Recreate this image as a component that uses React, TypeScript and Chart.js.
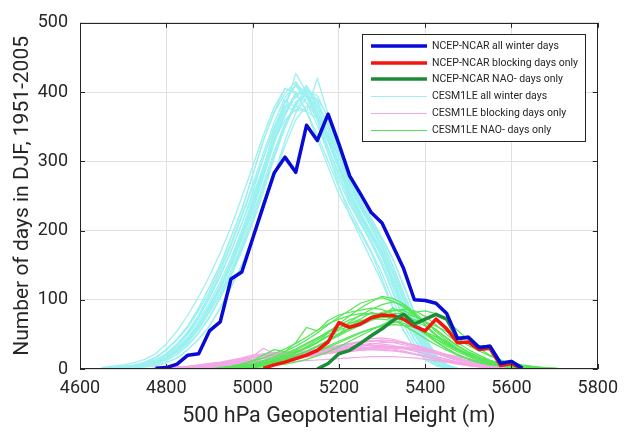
import React, { useEffect, useRef } from "react";
import { Chart, registerables } from "chart.js";
Chart.register(...registerables);

const xTicks = [4600, 4800, 5000, 5200, 5400, 5600, 5800];
const yTicks = [0, 100, 200, 300, 400, 500];

// NCEP-NCAR reanalysis
const ncepAllX = [4775, 4800, 4825, 4850, 4875, 4900, 4925, 4950, 4975, 5000, 5025, 5050, 5075, 5100, 5125, 5150, 5175, 5200, 5225, 5250, 5275, 5300, 5325, 5350, 5375, 5400, 5425, 5450, 5475, 5500, 5525, 5550, 5575, 5600, 5625];
const ncepAll = [1, 2, 7, 20, 22, 55, 68, 130, 140, 188, 236, 283, 306, 284, 352, 330, 368, 325, 279, 253, 226, 211, 178, 145, 100, 99, 95, 80, 44, 46, 31, 33, 8, 11, 1];
const ncepBlockX = [5025, 5050, 5075, 5100, 5125, 5150, 5175, 5200, 5225, 5250, 5275, 5300, 5325, 5350, 5375, 5400, 5425, 5450, 5475, 5500, 5525, 5550, 5575, 5600, 5625];
const ncepBlock = [1, 6, 10, 15, 20, 27, 39, 67, 60, 65, 74, 78, 77, 72, 62, 55, 72, 58, 38, 39, 28, 30, 5, 8, 0];
const ncepNaoX = [5150, 5175, 5200, 5225, 5250, 5275, 5300, 5325, 5350, 5375, 5400, 5425, 5450, 5475, 5500, 5525, 5550, 5575, 5600, 5625];
const ncepNao = [0, 8, 22, 27, 37, 48, 58, 70, 79, 65, 72, 79, 72, 44, 46, 31, 33, 8, 11, 1];

// CESM1LE all winter days
const cesmAllX = [4650, 4675, 4700, 4725, 4750, 4775, 4800, 4825, 4850, 4875, 4900, 4925, 4950, 4975, 5000, 5025, 5050, 5075, 5100, 5125, 5150, 5175, 5200, 5225, 5250, 5275, 5300, 5325, 5350, 5375, 5400, 5425, 5450, 5475];
const cesmAll01 = [0, 1, 2, 3, 5, 9, 16, 28, 43, 62, 88, 118, 150, 190, 230, 280, 330, 370, 400, 395, 370, 330, 290, 250, 222, 195, 167, 128, 88, 55, 28, 12, 4, 0];
const cesmAll02 = [1, 2, 3, 5, 9, 16, 28, 43, 62, 88, 118, 150, 190, 230, 280, 330, 372, 405, 398, 372, 332, 292, 252, 224, 196, 168, 130, 90, 56, 30, 13, 5, 1, 0];
const cesmAll03 = [0, 0, 1, 2, 3, 5, 9, 16, 28, 43, 62, 88, 118, 150, 190, 230, 280, 330, 370, 392, 390, 365, 322, 275, 245, 218, 190, 160, 120, 80, 45, 20, 6, 0];
const cesmAll04 = [0, 1, 2, 4, 7, 12, 21, 35, 52, 74, 102, 134, 170, 210, 255, 305, 350, 385, 410, 385, 352, 312, 272, 238, 210, 182, 150, 110, 72, 42, 20, 8, 2, 0];
const cesmAll05 = [0, 0, 1, 2, 4, 7, 12, 21, 35, 52, 74, 102, 134, 170, 210, 255, 305, 348, 382, 402, 385, 352, 312, 270, 236, 206, 176, 142, 104, 68, 38, 16, 5, 0];
const cesmAll06 = [1, 2, 3, 5, 9, 16, 28, 43, 62, 88, 118, 150, 190, 230, 280, 330, 370, 398, 415, 392, 365, 328, 288, 250, 220, 192, 162, 125, 86, 54, 28, 12, 4, 0];
const cesmAll07 = [0, 0, 1, 2, 3, 5, 9, 16, 28, 43, 62, 88, 118, 150, 190, 232, 278, 322, 360, 380, 378, 358, 318, 272, 240, 214, 188, 158, 122, 82, 46, 20, 6, 0];
const cesmAll08 = [0, 1, 2, 3, 6, 10, 17, 29, 45, 64, 90, 118, 152, 192, 235, 282, 335, 375, 427, 400, 365, 320, 282, 245, 215, 185, 155, 118, 80, 50, 26, 10, 3, 0];
const cesmAll09 = [0, 1, 1, 3, 5, 9, 15, 27, 42, 61, 86, 115, 148, 186, 228, 276, 326, 366, 396, 408, 388, 350, 305, 262, 232, 205, 178, 142, 102, 66, 36, 15, 5, 0];
const cesmAll10 = [0, 1, 2, 4, 6, 10, 18, 30, 46, 66, 92, 121, 155, 196, 238, 286, 332, 368, 395, 385, 362, 330, 292, 250, 218, 190, 162, 124, 86, 54, 28, 11, 3, 0];
const cesmAll11 = [2, 4, 6, 9, 14, 22, 36, 55, 78, 104, 134, 168, 205, 248, 292, 338, 378, 405, 400, 372, 338, 300, 262, 230, 200, 170, 138, 100, 64, 36, 17, 6, 2, 0];
const cesmAll12 = [0, 0, 1, 3, 5, 8, 14, 24, 38, 57, 82, 110, 142, 180, 222, 268, 315, 355, 382, 402, 395, 362, 318, 272, 238, 210, 182, 148, 108, 72, 40, 17, 6, 1];
const cesmAll13 = [0, 1, 2, 3, 5, 8, 15, 26, 40, 58, 82, 108, 140, 176, 215, 262, 305, 352, 380, 372, 420, 368, 318, 275, 240, 212, 185, 150, 110, 74, 42, 18, 6, 1];
const cesmAll14 = [0, 1, 3, 5, 8, 13, 22, 36, 54, 76, 104, 135, 170, 210, 250, 292, 330, 360, 375, 372, 362, 340, 305, 268, 236, 206, 176, 140, 100, 64, 35, 15, 5, 0];
const cesmAll15 = [1, 2, 3, 4, 7, 12, 20, 32, 50, 70, 96, 126, 160, 200, 244, 290, 345, 388, 378, 410, 380, 335, 295, 256, 226, 198, 170, 132, 92, 58, 30, 12, 4, 0];
const cesmAll16 = [0, 1, 2, 3, 5, 9, 16, 27, 42, 60, 86, 116, 150, 192, 238, 290, 342, 385, 412, 398, 360, 312, 265, 222, 190, 158, 125, 88, 55, 30, 14, 5, 1, 0];
const cesmAll17 = [1, 2, 4, 6, 10, 17, 27, 42, 60, 84, 112, 145, 182, 222, 266, 312, 356, 392, 410, 395, 360, 318, 278, 242, 212, 182, 150, 112, 74, 44, 22, 9, 3, 0];
const cesmAll18 = [0, 1, 2, 3, 4, 7, 12, 21, 34, 52, 76, 104, 136, 174, 216, 262, 310, 352, 386, 396, 378, 345, 305, 266, 234, 204, 174, 138, 98, 62, 33, 14, 5, 0];
const cesmAll19 = [0, 1, 2, 3, 5, 9, 15, 25, 40, 60, 86, 118, 155, 198, 242, 292, 340, 378, 392, 405, 378, 338, 298, 258, 226, 196, 166, 130, 92, 58, 30, 12, 4, 0];
const cesmAll20 = [1, 2, 3, 5, 8, 13, 22, 36, 54, 78, 108, 140, 178, 220, 262, 304, 348, 380, 372, 400, 372, 332, 292, 255, 224, 194, 162, 124, 84, 50, 25, 10, 3, 0];
const cesmAllMembers = [cesmAll01, cesmAll02, cesmAll03, cesmAll04, cesmAll05, cesmAll06, cesmAll07, cesmAll08, cesmAll09, cesmAll10, cesmAll11, cesmAll12, cesmAll13, cesmAll14, cesmAll15, cesmAll16, cesmAll17, cesmAll18, cesmAll19, cesmAll20];

// CESM1LE blocking days only
const cesmBlockX = [4750, 4775, 4800, 4825, 4850, 4875, 4900, 4925, 4950, 4975, 5000, 5025, 5050, 5075, 5100, 5125, 5150, 5175, 5200, 5225, 5250, 5275, 5300, 5325, 5350, 5375, 5400, 5425, 5450, 5475, 5500, 5525, 5550, 5575, 5600, 5625];
const cesmBlock01 = [0, 1, 1, 2, 3, 4, 5, 7, 9, 11, 14, 15, 17, 18, 19, 21, 22, 24, 26, 28, 30, 32, 33, 31, 29, 26, 22, 18, 14, 10, 7, 4, 2, 1, 0, 0];
const cesmBlock02 = [0, 0, 1, 1, 2, 3, 4, 6, 8, 10, 12, 16, 20, 22, 25, 24, 27, 29, 32, 35, 38, 40, 42, 41, 37, 33, 28, 23, 17, 12, 8, 5, 3, 1, 1, 0];
const cesmBlock03 = [0, 1, 2, 3, 4, 6, 8, 10, 13, 16, 20, 22, 24, 22, 25, 26, 25, 27, 28, 30, 31, 30, 29, 27, 25, 22, 19, 15, 12, 9, 6, 4, 2, 1, 0, 0];
const cesmBlock04 = [0, 0, 0, 1, 1, 2, 3, 4, 5, 7, 9, 11, 13, 15, 17, 19, 21, 24, 27, 30, 33, 36, 38, 39, 38, 35, 31, 26, 21, 16, 11, 7, 4, 2, 1, 0];
const cesmBlock05 = [0, 1, 1, 2, 2, 3, 5, 6, 8, 12, 18, 30, 22, 19, 20, 22, 24, 25, 26, 27, 28, 28, 27, 26, 24, 21, 18, 15, 11, 8, 5, 3, 2, 1, 0, 0];
const cesmBlock06 = [0, 0, 1, 1, 2, 3, 4, 5, 7, 9, 11, 13, 14, 16, 18, 20, 23, 26, 29, 32, 35, 37, 36, 34, 30, 26, 22, 18, 14, 10, 7, 5, 3, 2, 1, 0];
const cesmBlock07 = [0, 0, 0, 0, 1, 1, 2, 3, 4, 6, 8, 10, 12, 14, 16, 18, 20, 22, 24, 25, 27, 28, 29, 30, 30, 29, 27, 24, 20, 16, 12, 8, 5, 3, 1, 0];
const cesmBlock08 = [0, 1, 1, 2, 3, 5, 6, 8, 10, 12, 14, 16, 18, 20, 21, 23, 26, 28, 31, 33, 35, 34, 32, 29, 26, 22, 18, 14, 10, 7, 5, 3, 2, 1, 0, 0];
const cesmBlock09 = [0, 0, 1, 2, 2, 3, 4, 5, 6, 8, 10, 12, 15, 17, 19, 20, 22, 23, 25, 27, 29, 31, 32, 33, 32, 30, 27, 23, 19, 15, 11, 8, 5, 3, 2, 1];
const cesmBlock10 = [0, 1, 2, 2, 3, 4, 6, 8, 11, 14, 17, 19, 21, 24, 26, 25, 28, 31, 34, 37, 40, 44, 45, 43, 39, 34, 29, 24, 19, 14, 10, 6, 4, 2, 1, 0];
const cesmBlock11 = [0, 0, 1, 1, 2, 2, 3, 4, 5, 6, 7, 8, 9, 10, 11, 12, 13, 14, 15, 16, 17, 18, 18, 18, 17, 16, 14, 12, 10, 8, 6, 4, 3, 2, 1, 0];
const cesmBlock12 = [0, 1, 1, 2, 3, 4, 6, 8, 10, 13, 16, 19, 21, 18, 22, 24, 27, 30, 33, 36, 39, 41, 40, 38, 35, 31, 27, 23, 19, 15, 11, 8, 5, 3, 2, 1];
const cesmBlock13 = [0, 0, 1, 1, 1, 2, 2, 3, 4, 5, 6, 8, 10, 12, 14, 17, 20, 23, 26, 28, 30, 31, 32, 32, 31, 29, 27, 24, 21, 18, 15, 12, 9, 6, 4, 2];
const cesmBlock14 = [0, 1, 2, 3, 4, 5, 7, 9, 12, 15, 18, 21, 23, 25, 24, 26, 28, 29, 30, 31, 33, 34, 34, 32, 30, 28, 25, 22, 18, 14, 10, 7, 4, 2, 1, 0];
const cesmBlockMembers = [cesmBlock01, cesmBlock02, cesmBlock03, cesmBlock04, cesmBlock05, cesmBlock06, cesmBlock07, cesmBlock08, cesmBlock09, cesmBlock10, cesmBlock11, cesmBlock12, cesmBlock13, cesmBlock14];

// CESM1LE NAO- days only
const cesmNaoX = [4900, 4925, 4950, 4975, 5000, 5025, 5050, 5075, 5100, 5125, 5150, 5175, 5200, 5225, 5250, 5275, 5300, 5325, 5350, 5375, 5400, 5425, 5450, 5475, 5500, 5525, 5550, 5575, 5600, 5625, 5650, 5675, 5700, 5725];
const cesmNao01 = [0, 1, 2, 4, 6, 9, 13, 18, 24, 31, 39, 48, 56, 63, 69, 73, 75, 74, 70, 62, 52, 40, 30, 21, 14, 9, 6, 4, 2, 1, 1, 0, 0, 0];
const cesmNao02 = [0, 1, 3, 5, 8, 12, 18, 25, 33, 42, 52, 64, 75, 85, 95, 100, 103, 98, 90, 78, 64, 50, 38, 28, 20, 14, 9, 6, 4, 2, 1, 1, 0, 0];
const cesmNao03 = [0, 0, 1, 2, 4, 6, 9, 13, 18, 25, 33, 42, 51, 60, 68, 76, 82, 85, 84, 78, 68, 56, 44, 33, 24, 17, 11, 7, 4, 2, 1, 0, 0, 0];
const cesmNao04 = [0, 2, 4, 7, 12, 20, 28, 25, 38, 60, 55, 70, 78, 82, 85, 88, 86, 80, 72, 62, 50, 39, 29, 21, 15, 10, 7, 4, 3, 2, 1, 0, 0, 0];
const cesmNao05 = [0, 0, 1, 2, 3, 5, 8, 11, 15, 20, 26, 33, 40, 47, 53, 58, 62, 64, 63, 60, 54, 46, 37, 29, 21, 15, 10, 6, 4, 2, 1, 1, 0, 0];
const cesmNao06 = [0, 1, 2, 3, 5, 8, 12, 17, 23, 30, 38, 47, 58, 68, 78, 86, 93, 97, 92, 80, 64, 48, 36, 27, 20, 14, 10, 7, 4, 3, 2, 1, 1, 0];
const cesmNao07 = [0, 1, 2, 4, 7, 11, 16, 22, 29, 37, 45, 53, 60, 66, 70, 72, 72, 70, 66, 60, 52, 43, 35, 27, 20, 14, 9, 6, 4, 2, 1, 1, 0, 0];
const cesmNao08 = [0, 0, 1, 3, 5, 8, 11, 15, 20, 26, 33, 41, 50, 58, 66, 74, 80, 84, 86, 84, 76, 64, 50, 38, 28, 20, 13, 8, 5, 3, 2, 1, 0, 0];
const cesmNao09 = [0, 1, 2, 3, 6, 9, 14, 20, 27, 35, 44, 54, 63, 71, 77, 80, 80, 77, 71, 63, 53, 43, 33, 25, 18, 12, 8, 5, 3, 2, 1, 0, 0, 0];
const cesmNao10 = [0, 1, 1, 2, 4, 7, 10, 14, 19, 25, 32, 40, 48, 56, 63, 70, 76, 80, 80, 76, 68, 57, 45, 34, 25, 18, 12, 8, 5, 3, 2, 1, 0, 0];
const cesmNao11 = [0, 0, 1, 2, 3, 5, 7, 10, 14, 19, 25, 31, 38, 45, 52, 58, 63, 67, 70, 71, 68, 62, 54, 44, 34, 26, 19, 13, 9, 6, 4, 2, 1, 0];
const cesmNao12 = [0, 1, 2, 3, 5, 8, 12, 17, 24, 32, 42, 53, 65, 77, 88, 97, 105, 102, 94, 82, 68, 54, 41, 30, 22, 15, 10, 6, 4, 2, 1, 1, 0, 0];
const cesmNao13 = [0, 2, 4, 7, 11, 16, 22, 29, 37, 46, 56, 65, 72, 77, 80, 80, 77, 71, 63, 54, 44, 35, 27, 20, 14, 10, 7, 4, 3, 2, 1, 0, 0, 0];
const cesmNao14 = [0, 0, 0, 1, 2, 3, 5, 7, 10, 14, 19, 25, 32, 40, 48, 56, 64, 71, 77, 82, 84, 80, 70, 56, 42, 30, 20, 13, 8, 5, 3, 2, 1, 0];
const cesmNao15 = [0, 1, 2, 4, 5, 8, 13, 16, 26, 30, 38, 52, 50, 66, 72, 82, 78, 88, 80, 70, 62, 48, 40, 28, 22, 14, 10, 6, 4, 3, 2, 1, 1, 0];
const cesmNaoMembers = [cesmNao01, cesmNao02, cesmNao03, cesmNao04, cesmNao05, cesmNao06, cesmNao07, cesmNao08, cesmNao09, cesmNao10, cesmNao11, cesmNao12, cesmNao13, cesmNao14, cesmNao15];

const legendLabels = [
  "NCEP-NCAR all winter days",
  "NCEP-NCAR blocking days only",
  "NCEP-NCAR NAO- days only",
  "CESM1LE all winter days",
  "CESM1LE blocking days only",
  "CESM1LE NAO- days only",
];

const C_BLUE = "#0a0ad8";
const C_RED = "#f5140f";
const C_DKGREEN = "#1c8c38";
const C_CYAN = "#9cf0f0";
const C_PINK = "#f2a8e6";
const C_LTGREEN = "#55e655";
const AXIS = "#262626";

const legendStyles = [
  { color: C_BLUE, width: 3.5 },
  { color: C_RED, width: 3.5 },
  { color: C_DKGREEN, width: 3.5 },
  { color: C_CYAN, width: 1 },
  { color: C_PINK, width: 1 },
  { color: C_LTGREEN, width: 1 },
];

function pts(xs: number[], ys: number[]) {
  return xs.map((x, i) => ({ x, y: ys[i] }));
}

function line(xs: number[], ys: number[], color: string, width: number) {
  return {
    data: pts(xs, ys),
    borderColor: color,
    backgroundColor: color,
    borderWidth: width,
    pointRadius: 0,
    tension: 0,
    fill: false,
    borderJoinStyle: "round" as const,
  };
}

const framePlugin = {
  id: "frame",
  afterDatasetsDraw(chart: any) {
    const { ctx, chartArea: a, scales } = chart;
    const xs = scales.x;
    const ys = scales.y;
    ctx.save();
    ctx.strokeStyle = AXIS;
    ctx.lineWidth = 1;
    ctx.strokeRect(Math.round(a.left) + 0.5, Math.round(a.top) + 0.5, Math.round(a.width) - 1, Math.round(a.height) - 1);
    ctx.beginPath();
    const tl = 5;
    for (const v of xTicks) {
      const px = Math.round(xs.getPixelForValue(v)) + 0.5;
      ctx.moveTo(px, a.bottom);
      ctx.lineTo(px, a.bottom - tl);
      ctx.moveTo(px, a.top);
      ctx.lineTo(px, a.top + tl);
    }
    for (const v of yTicks) {
      const py = Math.round(ys.getPixelForValue(v)) + 0.5;
      ctx.moveTo(a.left, py);
      ctx.lineTo(a.left + tl, py);
      ctx.moveTo(a.right, py);
      ctx.lineTo(a.right - tl, py);
    }
    ctx.stroke();

    // legend
    const bx = 362, by = 34, bw = 223, bh = 107;
    ctx.fillStyle = "#ffffff";
    ctx.fillRect(bx, by, bw, bh);
    ctx.strokeStyle = AXIS;
    ctx.lineWidth = 1;
    ctx.strokeRect(bx + 0.5, by + 0.5, bw, bh);
    ctx.font = "10.5px Roboto";
    ctx.textBaseline = "middle";
    ctx.textAlign = "left";
    legendLabels.forEach((lab, i) => {
      const cy = Math.round(46 + i * 16.7);
      const st = legendStyles[i];
      ctx.strokeStyle = st.color;
      ctx.lineWidth = st.width;
      ctx.beginPath();
      const ly = st.width < 2 ? cy + 0.5 : cy;
      ctx.moveTo(371, ly);
      ctx.lineTo(427, ly);
      ctx.stroke();
      ctx.fillStyle = AXIS;
      ctx.fillText(lab, 432, cy);
    });
    ctx.restore();
  },
};

export default function App() {
  const ref = useRef<HTMLCanvasElement | null>(null);
  useEffect(() => {
    if (!ref.current) return;
    Chart.defaults.font.family = "Roboto";
    const datasets: any[] = [];
    datasets.push(line(ncepAllX, ncepAll, C_BLUE, 3.5));
    datasets.push(line(ncepNaoX, ncepNao, C_DKGREEN, 3.5));
    datasets.push(line(ncepBlockX, ncepBlock, C_RED, 3.5));
    cesmNaoMembers.forEach((m) => datasets.push(line(cesmNaoX, m, C_LTGREEN, 1.2)));
    cesmBlockMembers.forEach((m) => datasets.push(line(cesmBlockX, m, C_PINK, 1.2)));
    cesmAllMembers.forEach((m) => datasets.push(line(cesmAllX, m, C_CYAN, 1.3)));

    const chart = new Chart(ref.current, {
      type: "line",
      data: { datasets },
      options: {
        animation: false,
        responsive: false,
        maintainAspectRatio: false,
        layout: { padding: { top: 18, right: 25, left: 0, bottom: 0 } },
        plugins: { legend: { display: false }, tooltip: { enabled: false } },
        scales: {
          x: {
            type: "linear",
            min: 4600,
            max: 5800,
            afterFit: (s: any) => { s.height = 66; },
            afterBuildTicks: (s: any) => { s.ticks = xTicks.map((v) => ({ value: v })); },
            ticks: { font: { size: 18 }, color: AXIS, padding: 9, maxRotation: 0, autoSkip: false, callback: (v: any) => String(v) },
            grid: { color: "#e0e0e0", drawTicks: false, lineWidth: 1 },
            border: { display: false },
            title: {
              display: true,
              text: "500 hPa Geopotential Height (m)",
              font: { size: 21.5 },
              color: AXIS,
              padding: { top: 0, bottom: 5 },
            },
          },
          y: {
            type: "linear",
            min: 0,
            max: 500,
            afterFit: (s: any) => { s.width = 80; },
            afterBuildTicks: (s: any) => { s.ticks = yTicks.map((v) => ({ value: v })); },
            ticks: { font: { size: 18 }, color: AXIS, padding: 12, callback: (v: any) => String(v) },
            grid: { color: "#e0e0e0", drawTicks: false, lineWidth: 1 },
            border: { display: false },
            title: {
              display: true,
              text: "Number of days in DJF, 1951-2005",
              font: { size: 21 },
              color: AXIS,
              padding: { top: 10, bottom: 0 },
            },
          },
        },
      },
      plugins: [framePlugin],
    });
    return () => chart.destroy();
  }, []);
  return (
    <div style={{ position: "absolute", left: 0, top: 0, width: 627, height: 435 }}>
      <canvas ref={ref} width={627} height={435} style={{ display: "block" }} />
    </div>
  );
}
